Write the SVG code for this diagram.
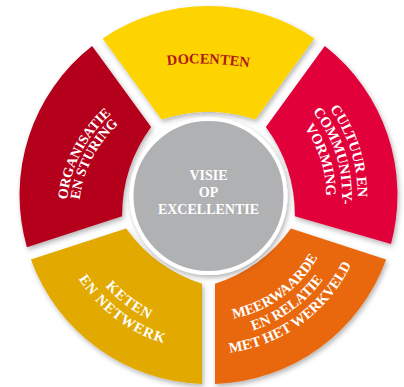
<svg xmlns="http://www.w3.org/2000/svg" width="404" height="387" viewBox="0 0 404 387">
  <style>
    .lbl { font-family: "Liberation Serif", "Times New Roman", serif; font-weight: bold; fill: #ffffff; }
    .seg { filter: url(#sh); }
  </style>
  <defs>
    <filter id="sh" x="-20%" y="-20%" width="140%" height="140%">
      <feDropShadow dx="1.5" dy="2.5" stdDeviation="2.5" flood-color="#000000" flood-opacity="0.3"/>
    </filter>
    <path id="pDoc" d="M 163,66 Q 200,60 254,68"/>
    <path id="pOrg1" d="M 76.6,265.6 A 133.8 133.8 0 0 1 170.6,83.5"/>
    <path id="pOrg2" d="M 88.1,260.8 A 121.3 121.3 0 0 1 173.3,95.7"/>
    <path id="pCul1" d="M 265.6,57.7 A 149.2 149.2 0 0 1 334.3,275.7"/>
    <path id="pCul2" d="M 259.7,72.0 A 133.7 133.7 0 0 1 321.3,267.3"/>
    <path id="pCul3" d="M 253.5,86.8 A 117.7 117.7 0 0 1 307.8,258.7"/>
    <path id="pKet1" d="M 71.4,202.7 A 137.3 137.3 0 0 0 239.4,329.3"/>
    <path id="pKet2" d="M 54.4,203.6 A 154.3 154.3 0 0 0 243.2,345.9"/>
    <path id="pMee1" d="M 178.1,317.4 A 125.6 125.6 0 0 0 333.8,204.3"/>
    <path id="pMee2" d="M 174.1,333.4 A 142.1 142.1 0 0 0 350.3,205.4"/>
    <path id="pMee3" d="M 170.1,349.4 A 158.6 158.6 0 0 0 366.7,206.6"/>
  </defs>
  <rect width="404" height="387" fill="#ffffff"/>

  <g id="docenten">
    <path class="seg" fill="#fdd300" d="M 102.7,38.4 A 189 189 0 0 1 314.3,38.4 L 255.4,119.4 A 150 150 0 0 0 161.6,119.4 Z"/>
    <text class="lbl" font-size="14.5" text-anchor="middle" style="fill:#b01a1c"><textPath href="#pDoc" startOffset="50%">DOCENTEN</textPath></text>
  </g>

  <g id="cultuur">
    <path class="seg" fill="#e2003a" d="M 324.8,46.0 A 189 189 0 0 1 391.0,244.0 L 294.9,216.2 A 150 150 0 0 0 265.9,127.0 Z"/>
    <text class="lbl" font-size="14.5" text-anchor="middle"><textPath href="#pCul1" startOffset="50%">CULTUUR EN</textPath></text>
    <text class="lbl" font-size="14.5" text-anchor="middle"><textPath href="#pCul2" startOffset="50%">COMMUNITY-</textPath></text>
    <text class="lbl" font-size="14.5" text-anchor="middle"><textPath href="#pCul3" startOffset="50%">VORMING</textPath></text>
  </g>

  <g id="meerwaarde">
    <path class="seg" fill="#e9680d" d="M 386.1,259.5 A 189 189 0 0 1 215.0,383.9 L 215.0,283.8 A 150 150 0 0 0 290.9,228.6 Z"/>
    <text class="lbl" font-size="14.5" text-anchor="middle"><textPath href="#pMee1" startOffset="50%">MEERWAARDE</textPath></text>
    <text class="lbl" font-size="14.5" text-anchor="middle"><textPath href="#pMee2" startOffset="50%">EN RELATIE</textPath></text>
    <text class="lbl" font-size="14.5" text-anchor="middle"><textPath href="#pMee3" startOffset="50%">MET HET WERKVELD</textPath></text>
  </g>

  <g id="keten">
    <path class="seg" fill="#e2a900" d="M 202.0,383.9 A 189 189 0 0 1 30.9,259.5 L 126.1,228.6 A 150 150 0 0 0 202.0,283.8 Z"/>
    <text class="lbl" font-size="14.5" letter-spacing="1" text-anchor="middle"><textPath href="#pKet1" startOffset="50%">KETEN</textPath></text>
    <text class="lbl" font-size="14.5" letter-spacing="1" text-anchor="middle"><textPath href="#pKet2" startOffset="50%">EN NETWERK</textPath></text>
  </g>

  <g id="organisatie">
    <path class="seg" fill="#b5061f" d="M 26.9,247.2 A 189 189 0 0 1 92.1,46.1 L 151.1,127.0 A 150 150 0 0 0 122.1,216.2 Z"/>
    <text class="lbl" font-size="14" text-anchor="middle"><textPath href="#pOrg1" startOffset="50%">ORGANISATIE</textPath></text>
    <text class="lbl" font-size="14" text-anchor="middle"><textPath href="#pOrg2" startOffset="50%">EN STURING</textPath></text>
  </g>

  <g id="visie">
    <circle cx="208.5" cy="196" r="77" fill="#b0b1b3" stroke="#ffffff" stroke-width="4" filter="url(#sh)"/>
    <text class="lbl" font-size="14" text-anchor="middle" x="208.5" y="180">VISIE</text>
    <text class="lbl" font-size="14" text-anchor="middle" x="208.5" y="197">OP</text>
    <text class="lbl" font-size="14" text-anchor="middle" x="208.5" y="214">EXCELLENTIE</text>
  </g>
</svg>
